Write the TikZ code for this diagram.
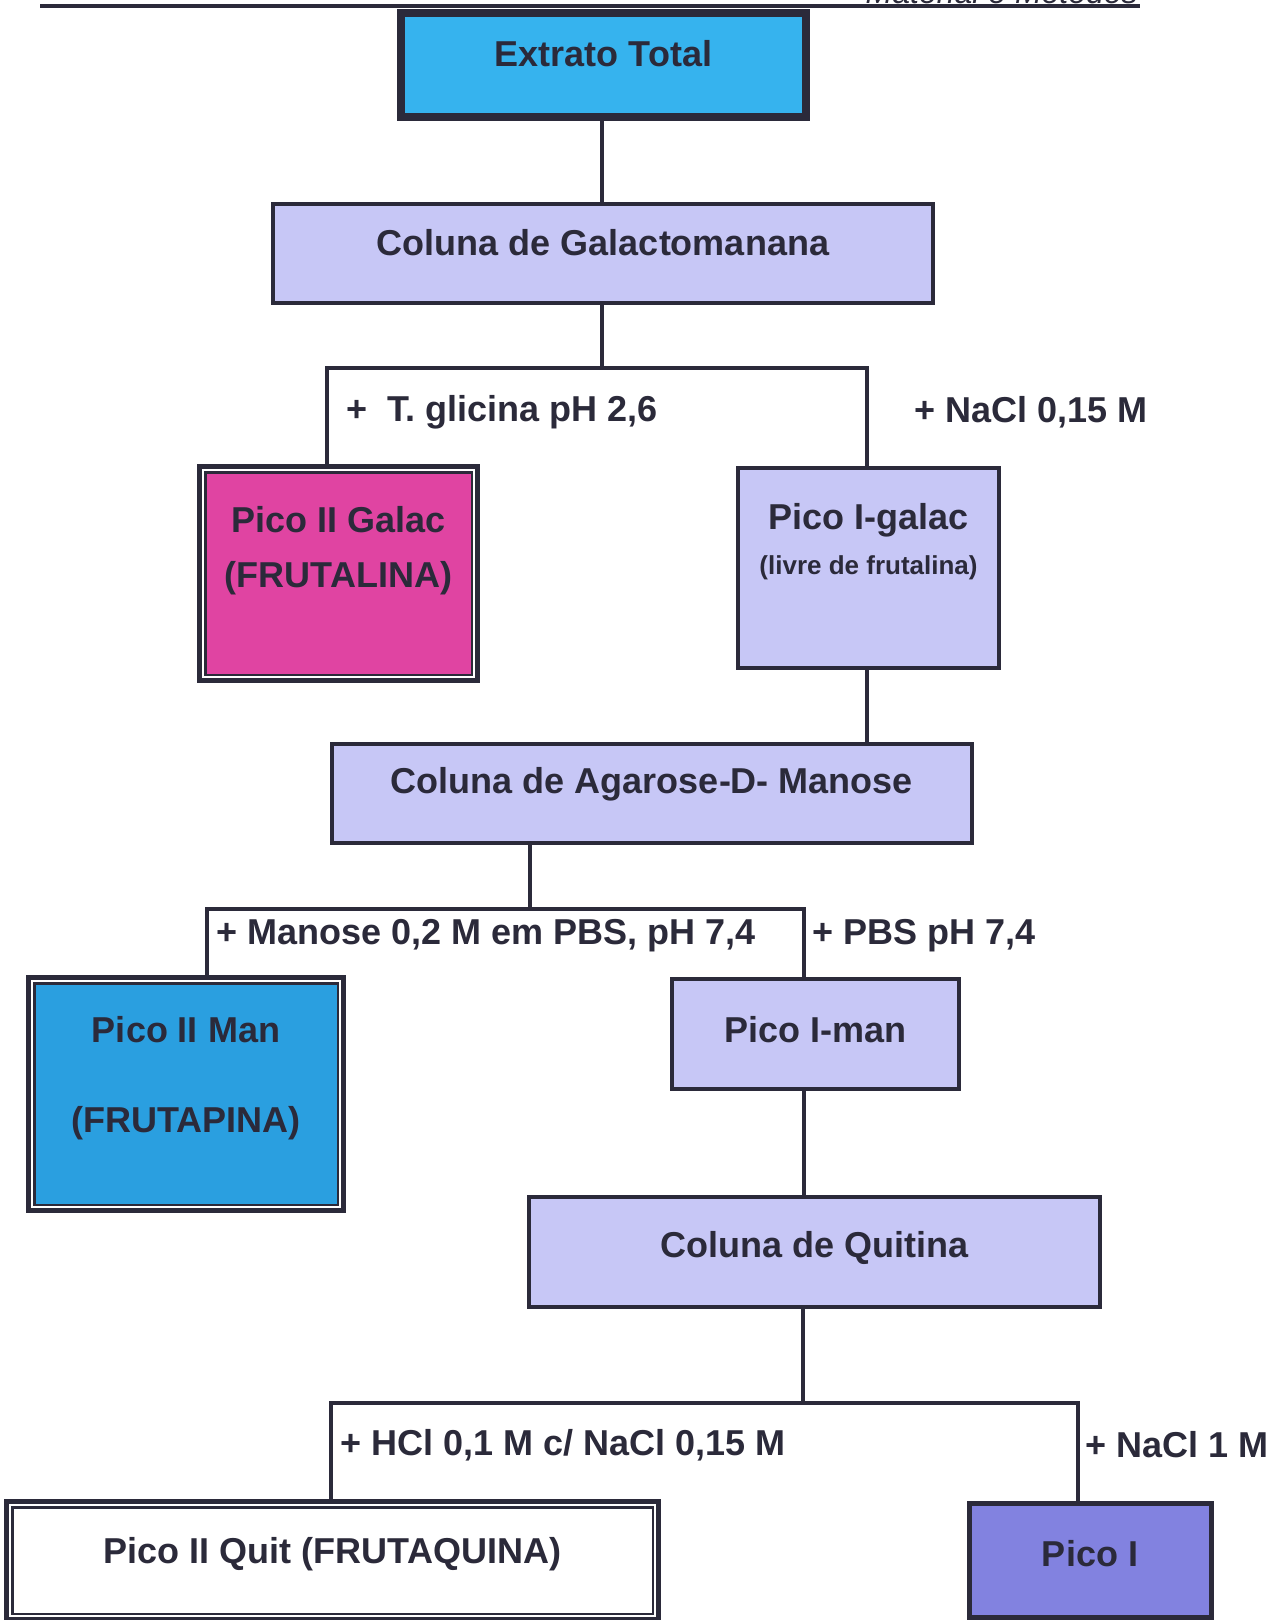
\documentclass[tikz,border=0pt]{standalone}
\usepackage{fontspec}
\setmainfont{Liberation Sans}
\definecolor{ink}{HTML}{2B2A3A}
\definecolor{lav}{HTML}{C7C7F6}
\definecolor{skyblue}{HTML}{36B3EE}
\definecolor{deepblue}{HTML}{2A9FE0}
\definecolor{magen}{HTML}{E044A2}
\definecolor{violet}{HTML}{8282E0}
\tikzset{
  conn/.style={draw=ink, line width=4pt},
  boxbase/.style={rectangle, draw=ink, inner sep=0pt},
  thinbox/.style={boxbase, line width=4pt, fill=lav},
  heavybox/.style={boxbase, line width=8pt},
  txt/.style={font=\bfseries\fontsize{36}{40}\selectfont, text=ink, inner sep=0pt, anchor=center},
  smalltxt/.style={font=\bfseries\fontsize{26}{30}\selectfont, text=ink, inner sep=0pt},
  lbl/.style={font=\bfseries\fontsize{36}{40}\selectfont, text=ink, inner sep=0pt, anchor=west},
}
% inner frame of the double-bordered boxes
\newcommand{\innerframe}[1]{%
  \draw[white, line width=2.5pt] ([shift={(6,6)}]#1.north west) rectangle ([shift={(-6,-6)}]#1.south east);
  \draw[ink, line width=2pt] ([shift={(8.5,8.5)}]#1.north west) rectangle ([shift={(-8.5,-8.5)}]#1.south east);
}
\begin{document}
\begin{tikzpicture}[x=1pt, y=-1pt]
\useasboundingbox (0,0) rectangle (1281,1620);
\fill[white] (0,0) rectangle (1281,1620);

% running head
\node[font=\itshape\fontsize{32}{36}\selectfont, text=ink, inner sep=0pt, anchor=base east] (head) at (1138,3) {Material e Métodos};
\draw[ink, line width=4.5pt] (40,6) -- (1140,6);

% boxes
\node[heavybox, fill=skyblue, minimum width=405pt, minimum height=104pt] (ext) at (603.5,65) {};
\node[txt] (extT) at (603.5,54) {Extrato Total};

\node[thinbox, minimum width=660pt, minimum height=99pt] (gal) at (603,253.5) {};
\node[txt] (galT) at (603,243) {Coluna de Galactomanana};

\node[heavybox, fill=magen, minimum width=275pt, minimum height=211pt] (p2g) at (338.5,573.5) {};
\innerframe{p2g}
\node[txt] (p2gA) at (338.5,520) {Pico II Galac};
\node[txt] (p2gB) at (338.5,578) {(FRUTALINA)};

\node[thinbox, minimum width=261pt, minimum height=200pt] (p1g) at (868.5,568) {};
\node[txt] (p1gA) at (868.5,520) {Pico I-galac};
\node[smalltxt] (p1gB) at (868.5,568) {(livre de frutalina)};

\node[thinbox, minimum width=640pt, minimum height=99pt] (agr) at (652,793.5) {};
\node[txt] (agrT) at (652,784) {Coluna de Agarose-D- Manose};

\node[heavybox, fill=deepblue, minimum width=312pt, minimum height=230pt] (p2m) at (186,1094) {};
\innerframe{p2m}
\node[txt] (p2mA) at (186,1030) {Pico II Man};
\node[txt] (p2mB) at (186,1123) {(FRUTAPINA)};

\node[thinbox, minimum width=287pt, minimum height=110pt] (p1m) at (815.5,1034) {};
\node[txt] (p1mT) at (815.5,1030) {Pico I-man};

\node[thinbox, minimum width=571pt, minimum height=110pt] (qui) at (814.5,1252) {};
\node[txt] (quiT) at (814.5,1248) {Coluna de Quitina};

\node[heavybox, fill=white, minimum width=649pt, minimum height=115pt] (p2q) at (332.5,1560.5) {};
\innerframe{p2q}
\node[txt] (p2qT) at (332.5,1554) {Pico II Quit (FRUTAQUINA)};

\node[heavybox, line width=5pt, fill=violet, minimum width=242pt, minimum height=114pt] (p1) at (1090,1560) {};
\node[txt] (p1T) at (1090,1554) {Pico I};

% junction points
\coordinate (j1) at (602,368);
\coordinate (j2) at (530,909);
\coordinate (j3) at (803,1403);

% connectors
\draw[conn] (ext.south -| j1) -- (gal.north -| j1);
\draw[conn] (gal.south -| j1) -- (j1);
\draw[conn] ([xshift=-12pt]p2g.north) |- (j1) -| ([xshift=-2pt]p1g.north);
\draw[conn] ([xshift=-2pt]p1g.south) -- ([xshift=-2pt]p1g.south |- agr.north);
\draw[conn] (agr.south -| j2) -- (j2);
\draw[conn] ([xshift=21pt]p2m.north) |- (j2) -| ([xshift=-12pt]p1m.north);
\draw[conn] ([xshift=-12pt]p1m.south) -- ([xshift=-12pt]p1m.south |- qui.north);
\draw[conn] (qui.south -| j3) -- (j3);
\draw[conn] ([xshift=-2pt]p2q.north) |- (j3) -| ([xshift=-12pt]p1.north);

% elution labels
\node[lbl] (l1) at (346,412) {+\ \ T. glicina pH 2,6};
\node[lbl] (l2) at (914,412) {+ NaCl 0,15 M};
\node[lbl] (l3) at (216,936) {+ Manose 0,2 M em PBS, pH 7,4};
\node[lbl] (l4) at (812,936) {+ PBS pH 7,4};
\node[lbl] (l5) at (340,1445) {+ HCl 0,1 M c/ NaCl 0,15 M};
\node[lbl] (l6) at (1085,1445) {+ NaCl 1 M};
\end{tikzpicture}
\end{document}
